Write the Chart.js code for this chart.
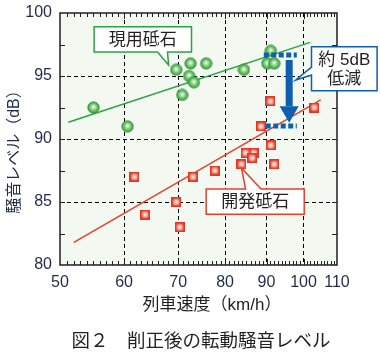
<!DOCTYPE html>
<html><head><meta charset="utf-8">
<script src="https://cdn.jsdelivr.net/npm/chart.js@4.4.1/dist/chart.umd.min.js"></script>
<style>html,body{margin:0;padding:0;background:#fff}canvas{display:block}</style>
</head><body>
<canvas id="c" width="380" height="355"></canvas>
<script>
// ---- data ----
const speedTicks = [50, 60, 70, 80, 90, 100, 110];
const levelTicks = [80, 85, 90, 95, 100];
const currentSpeed = [55, 60.6, 69.6, 72.5, 75.8, 72.2, 73.2, 70.8, 84.4, 90.2, 92, 91.1];
const currentLevel = [92.5, 91, 95.5, 96, 96, 95, 94.5, 93.5, 95.5, 96, 96, 97];
const developedSpeed = [61.8, 63.7, 69.6, 70.3, 73.0, 77.7, 83.8, 84.8, 86.8, 86.4, 88.6, 91, 91.1, 92, 103.1];
const developedLevel = [87, 84, 85, 83, 87, 87.5, 88, 88.9, 88.9, 88.5, 91, 93, 89.5, 88, 92.5];
const currentFitSpeed = [51.2, 101.9];
const currentFitLevel = [91.33, 97.67];
const developedFitSpeed = [52, 105];
const developedFitLevel = [81.8, 93.1];
const reductionSpeed = [89.3, 98.1];
const reductionLevels = [96.67, 91.03];
const arrowSpeed = 96;
const arrowShaft = [96.27, 92.6];
const arrowHeadLevel = 92.17;
const currentLabel = '現用砥石';
const developedLabel = '開発砥石';
const reductionLabel = ['約 5dB', '低減'];
const xTitle = '列車速度（km/h）';
const yTitle = '騒音レベル（dB）';
const caption = '図２　削正後の転動騒音レベル';

// ---- style ----
const NAVY = '#1e2b4a';
const INK = '#231f20';
const GREEN = '#2aa245';
const RED = '#e8402c';
const BLUE = '#0d5fb0';
const BG = '#f3f8f0';
const LATIN = '"Liberation Sans", Arial, sans-serif';
const CJK = '"Liberation Sans", "Noto Sans CJK JP", sans-serif';

function pts(xs, ys) { return xs.map((x, i) => ({x, y: ys[i]})); }

function makeBall() {
  const c = document.createElement('canvas'); c.width = 13; c.height = 13;
  const g = c.getContext('2d');
  const grd = g.createRadialGradient(6.5, 5.8, 0.3, 6.5, 6.5, 6);
  grd.addColorStop(0, '#f6fcf4'); grd.addColorStop(0.45, '#86cf7e'); grd.addColorStop(1, '#2f9c3b');
  g.fillStyle = grd; g.beginPath(); g.arc(6.5, 6.5, 5.6, 0, Math.PI * 2); g.fill();
  g.lineWidth = 1; g.strokeStyle = '#2b9236'; g.stroke();
  return c;
}
function makeSquare() {
  const c = document.createElement('canvas'); c.width = 10; c.height = 10;
  const g = c.getContext('2d');
  g.fillStyle = '#e5352a'; g.fillRect(0, 0, 10, 10);
  const grd = g.createRadialGradient(5, 5, 0.2, 5, 5, 4.6);
  grd.addColorStop(0, '#fff7f2'); grd.addColorStop(0.5, '#f7a692'); grd.addColorStop(1, '#ea4a34');
  g.fillStyle = grd; g.fillRect(1.5, 1.5, 7, 7);
  return c;
}

// callouts in data units
const callouts = [
  {label: [currentLabel], color: GREEN, x: [55.1, 72.7], y: [96.9, 98.9], side: 'bottom', base: [66.0, 67.9], tip: {x: 68.1, y: 95.87}},
  {label: [developedLabel], color: RED, x: [75.8, 100.2], y: [84.02, 86.03], side: 'top', base: [84.8, 88.6], tip: {x: 83.8, y: 87.7}},
  {label: reductionLabel, color: BLUE, x: [102.3, 123.3], y: [93.83, 97.33], side: 'left', base: [95.7, 95.08], tip: {x: 97.8, y: 94.68}}
];

const decor = {
  id: 'decor',
  beforeDraw(chart) {
    const {ctx, chartArea: a} = chart;
    ctx.save();
    ctx.fillStyle = '#fff'; ctx.fillRect(0, 0, chart.width, chart.height);
    ctx.fillStyle = BG; ctx.fillRect(a.left, a.top, a.right - a.left, a.bottom - a.top);
    ctx.restore();
  },
  beforeDatasetsDraw(chart) {
    const {ctx, chartArea: a, scales: {x, y}} = chart;
    ctx.save();
    ctx.strokeStyle = INK; ctx.lineWidth = 1;
    ctx.beginPath();
    for (let v = 51; v < 110; v++) {
      const px = Math.round(x.getPixelForValue(v)) + 0.5;
      const len = v % 10 === 0 ? 6 : 4;
      ctx.moveTo(px, a.top); ctx.lineTo(px, a.top + len);
      ctx.moveTo(px, a.bottom); ctx.lineTo(px, a.bottom - len);
    }
    for (let v = 82.5; v < 100; v += 2.5) {
      const py = Math.round(y.getPixelForValue(v)) + 0.5;
      ctx.moveTo(a.left, py); ctx.lineTo(a.left + 5, py);
      ctx.moveTo(a.right, py); ctx.lineTo(a.right - 5, py);
    }
    ctx.stroke();
    ctx.lineWidth = 1.5;
    ctx.strokeRect(a.left, a.top, a.right - a.left, a.bottom - a.top);
    ctx.restore();
  },
  afterDatasetsDraw(chart) {
    const {ctx, scales: {x, y}} = chart;
    ctx.save();
    callouts.forEach(c => {
      const L = x.getPixelForValue(c.x[0]), R = x.getPixelForValue(c.x[1]);
      const T = y.getPixelForValue(c.y[1]), B = y.getPixelForValue(c.y[0]);
      const tx = x.getPixelForValue(c.tip.x), ty = y.getPixelForValue(c.tip.y);
      ctx.beginPath();
      if (c.side === 'bottom') {
        const b0 = x.getPixelForValue(c.base[0]), b1 = x.getPixelForValue(c.base[1]);
        ctx.moveTo(L, T); ctx.lineTo(R, T); ctx.lineTo(R, B); ctx.lineTo(b1, B); ctx.lineTo(tx, ty); ctx.lineTo(b0, B); ctx.lineTo(L, B);
      } else if (c.side === 'top') {
        const b0 = x.getPixelForValue(c.base[0]), b1 = x.getPixelForValue(c.base[1]);
        ctx.moveTo(L, T); ctx.lineTo(b0, T); ctx.lineTo(tx, ty); ctx.lineTo(b1, T); ctx.lineTo(R, T); ctx.lineTo(R, B); ctx.lineTo(L, B);
      } else {
        const b0 = y.getPixelForValue(c.base[0]), b1 = y.getPixelForValue(c.base[1]);
        ctx.moveTo(L, T); ctx.lineTo(R, T); ctx.lineTo(R, B); ctx.lineTo(L, B); ctx.lineTo(L, b1); ctx.lineTo(tx, ty); ctx.lineTo(L, b0);
      }
      ctx.closePath();
      ctx.fillStyle = '#fff'; ctx.fill();
      ctx.lineWidth = 1.5; ctx.strokeStyle = c.color; ctx.lineJoin = 'miter'; ctx.stroke();
      ctx.fillStyle = INK; ctx.font = '17px ' + CJK; ctx.textAlign = 'center'; ctx.textBaseline = 'middle';
      const cx = (L + R) / 2, cy = (T + B) / 2, lh = 18.5;
      c.label.forEach((t, i) => ctx.fillText(t, cx, cy + (i - (c.label.length - 1) / 2) * lh + 1));
    });
    ctx.restore();
  },
  afterDraw(chart) {
    const {ctx} = chart;
    ctx.save();
    ctx.fillStyle = INK; ctx.textBaseline = 'middle';
    ctx.font = '17px ' + CJK; ctx.textAlign = 'center';
    ctx.fillText(xTitle, 212, 305);
    ctx.save(); ctx.translate(15, 148); ctx.rotate(-Math.PI / 2);
    ctx.fillStyle = NAVY; ctx.font = '16px ' + CJK; ctx.fillText(yTitle, 0, 0); ctx.restore();
    ctx.font = '18.5px "Noto Sans CJK JP", sans-serif'; ctx.textAlign = 'left';
    ctx.fillText(caption, 71.5, 340);
    ctx.restore();
  }
};

const ball = makeBall(), square = makeSquare();

new Chart(document.getElementById('c'), {
  type: 'scatter',
  data: {
    datasets: [
      {data: [{x: arrowSpeed, y: arrowHeadLevel}], pointStyle: 'triangle', rotation: 180, pointRadius: 11, backgroundColor: BLUE, borderWidth: 0},
      {data: arrowShaft.map(v => ({x: arrowSpeed, y: v})), showLine: true, pointRadius: 0, borderColor: BLUE, borderWidth: 7, borderCapStyle: 'butt'},
      {data: reductionSpeed.map(v => ({x: v, y: reductionLevels[0]})), showLine: true, pointRadius: 0, borderColor: BLUE, borderWidth: 5, borderDash: [5, 2.5], borderCapStyle: 'butt'},
      {data: reductionSpeed.map((v, i) => ({x: i === 0 ? v + 0.5 : v, y: reductionLevels[1]})), showLine: true, pointRadius: 0, borderColor: BLUE, borderWidth: 5, borderDash: [5, 2.5], borderCapStyle: 'butt'},
      {data: pts(currentSpeed, currentLevel), pointStyle: ball, pointRadius: 6},
      {data: pts(developedSpeed, developedLevel), pointStyle: square, pointRadius: 5},
      {data: pts(currentFitSpeed, currentFitLevel), showLine: true, pointRadius: 0, borderColor: GREEN, borderWidth: 1.5},
      {data: pts(developedFitSpeed, developedFitLevel), showLine: true, pointRadius: 0, borderColor: RED, borderWidth: 1.5}
    ]
  },
  options: {
    responsive: false, animation: false, devicePixelRatio: 1,
    layout: {padding: {top: 13, right: 43, left: 0, bottom: 0}},
    plugins: {legend: {display: false}, tooltip: {enabled: false}},
    scales: {
      x: {
        type: 'logarithmic', min: 50, max: 110,
        afterBuildTicks: s => { s.ticks = speedTicks.map(v => ({value: v})); },
        afterFit: s => { s.height = 90; s.paddingLeft = 0; s.paddingRight = 0; },
        ticks: {autoSkip: false, maxRotation: 0, padding: 8, color: NAVY, font: {family: LATIN, size: 16}, callback: v => String(v)},
        grid: {drawTicks: false, lineWidth: 1, color: c => (c.tick && c.tick.value > 50 && c.tick.value < 110) ? '#000' : 'rgba(0,0,0,0)'},
        border: {display: false, dash: [4, 3]}
      },
      y: {
        min: 80, max: 100,
        afterBuildTicks: s => { s.ticks = levelTicks.map(v => ({value: v})); },
        afterFit: s => { s.width = 60; s.paddingTop = 0; s.paddingBottom = 0; },
        ticks: {padding: 8, color: NAVY, font: {family: LATIN, size: 16}},
        grid: {drawTicks: false, lineWidth: 1, color: c => (c.tick && c.tick.value > 80 && c.tick.value < 100) ? '#000' : 'rgba(0,0,0,0)'},
        border: {display: false, dash: [4, 3]}
      }
    }
  },
  plugins: [decor]
});
</script>
</body></html>
